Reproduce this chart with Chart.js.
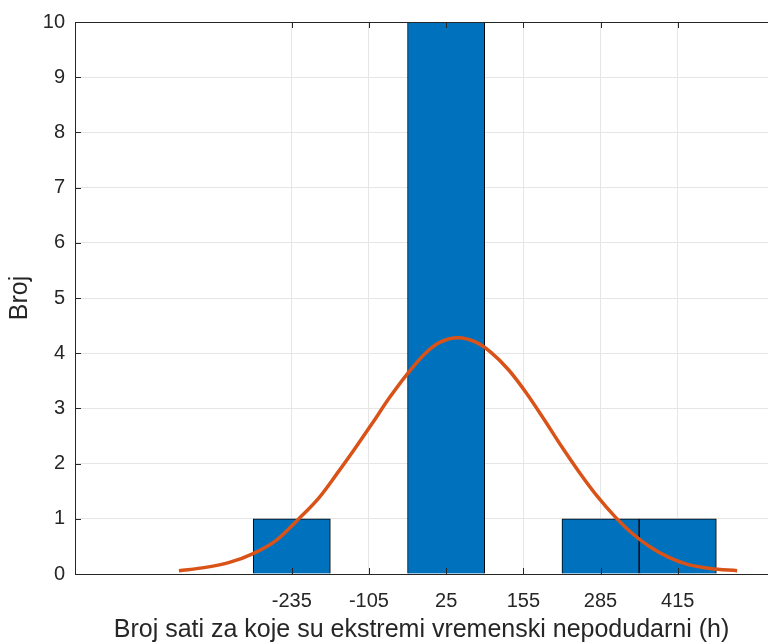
<!DOCTYPE html>
<html>
<head>
<meta charset="utf-8">
<script src="https://cdn.jsdelivr.net/npm/chart.js@4/dist/chart.umd.min.js"></script>
<style>
  html, body { margin: 0; padding: 0; background: #ffffff; }
  #wrap { width: 768px; height: 643px; position: relative; }
</style>
</head>
<body>
<div id="wrap"><canvas id="c" width="768" height="643"></canvas></div>
<script>
// Histogram bins (centres) and counts
const binCenters = [-235, -105, 25, 155, 285, 415];
const counts = [1, 0, 10, 0, 1, 1];
// X tick labels
const xTicks = [-235, -105, 25, 155, 285, 415];
// Fitted curve, values
const fitX = [-425, -380, -340, -300, -260, -225, -190, -160, -130, -100, -70, -40, -10, 15, 45, 75, 100, 130, 160, 190, 220, 250, 280, 310, 340, 370, 400, 430, 470, 515];
const fitY = [0.06, 0.12, 0.21, 0.37, 0.62, 0.98, 1.37, 1.80, 2.25, 2.72, 3.20, 3.63, 4.00, 4.20, 4.28, 4.20, 4.02, 3.70, 3.28, 2.80, 2.30, 1.83, 1.40, 1.03, 0.72, 0.48, 0.30, 0.18, 0.10, 0.06];

const axisColor = '#262626';
const gridColor = '#e6e6e6';
const fontFamily = '"Liberation Sans", Arial, Helvetica, sans-serif';

const innerTicks = {
  id: 'innerTicks',
  afterDatasetsDraw(chart) {
    const ctx = chart.ctx;
    const { left, right, top, bottom } = chart.chartArea;
    const xs = chart.scales.x, ys = chart.scales.y;
    ctx.save();
    ctx.strokeStyle = axisColor;
    ctx.lineWidth = 1;
    // top border
    ctx.beginPath();
    ctx.moveTo(left, top + 0.5);
    ctx.lineTo(right, top + 0.5);
    ctx.stroke();
    ctx.beginPath();
    xTicks.forEach(v => {
      const px = Math.round(xs.getPixelForValue(v)) + 0.5;
      ctx.moveTo(px, bottom);
      ctx.lineTo(px, bottom - 6);
      ctx.moveTo(px, top);
      ctx.lineTo(px, top + 6);
    });
    ys.ticks.forEach(t => {
      const py = Math.round(ys.getPixelForValue(t.value)) + 0.5;
      ctx.moveTo(left, py);
      ctx.lineTo(left + 6, py);
    });
    ctx.stroke();
    ctx.restore();
  }
};

const barData = binCenters.map((x, i) => ({ x: x, y: counts[i] }));
const fitData = fitX.map((x, i) => ({ x: x, y: fitY[i] }));

new Chart(document.getElementById('c'), {
  type: 'bar',
  data: {
    datasets: [
      {
        type: 'line',
        data: fitData,
        borderColor: '#D95319',
        borderWidth: 3.5,
        pointRadius: 0,
        cubicInterpolationMode: 'monotone',
        fill: false,
        order: 0
      },
      {
        type: 'bar',
        data: barData,
        backgroundColor: '#0072BD',
        borderColor: '#000000',
        borderWidth: 1,
        barPercentage: 1,
        categoryPercentage: 1,
        order: 1
      }
    ]
  },
  options: {
    responsive: false,
    animation: false,
    events: [],
    layout: { padding: { top: 20, left: 0, right: 0, bottom: 0 } },
    plugins: {
      legend: { display: false },
      tooltip: { enabled: false }
    },
    scales: {
      x: {
        type: 'linear',
        min: -600,
        max: 567,
        offset: false,
        grid: { color: gridColor, drawTicks: false, offset: false },
        border: { color: axisColor, width: 1 },
        afterBuildTicks: (scale) => { scale.ticks = xTicks.map(v => ({ value: v })); },
        afterFit: (scale) => { scale.height = 69; },
        ticks: {
          autoSkip: false,
          maxRotation: 0,
          color: axisColor,
          padding: 15,
          font: { family: fontFamily, size: 20 },
          callback: (v) => String(v)
        },
        title: {
          display: true,
          text: 'Broj sati za koje su ekstremi vremenski nepodudarni (h)',
          color: axisColor,
          font: { family: fontFamily, size: 25 },
          padding: { top: 0, bottom: -2 }
        }
      },
      y: {
        min: 0,
        max: 10,
        grid: { color: gridColor, drawTicks: false },
        border: { color: axisColor, width: 1 },
        afterFit: (scale) => { scale.width = 75; },
        ticks: {
          stepSize: 1,
          color: axisColor,
          padding: 10,
          font: { family: fontFamily, size: 20 }
        },
        title: {
          display: true,
          text: 'Broj',
          color: axisColor,
          font: { family: fontFamily, size: 25 },
          padding: { top: 5, bottom: 0 }
        }
      }
    }
  },
  plugins: [innerTicks]
});
</script>
</body>
</html>
